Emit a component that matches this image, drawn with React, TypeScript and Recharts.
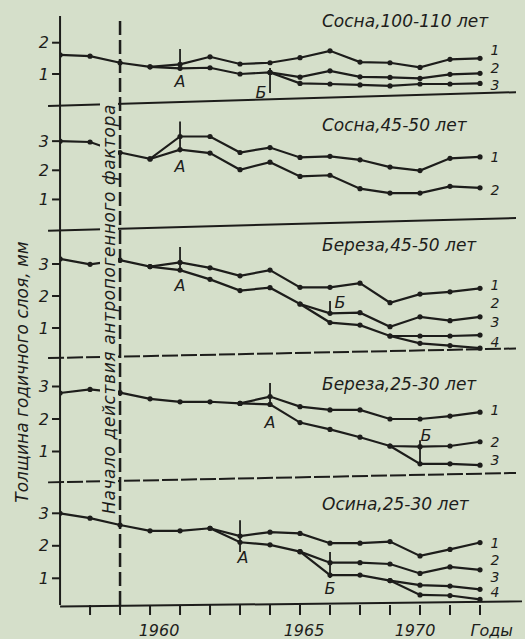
import React from 'react';
import { LineChart, Line, XAxis, YAxis, ReferenceLine, ReferenceDot, Label } from 'recharts';

const years = [1957, 1958, 1959, 1960, 1961, 1962, 1963, 1964, 1965, 1966, 1967, 1968, 1969, 1970, 1971];

// Сосна, 100-110 лет
const pineOld1 = [1.61, 1.57, 1.36, 1.23, 1.31, 1.55, 1.32, 1.36, 1.52, 1.74, 1.38, 1.36, 1.21, 1.47, 1.5];
const pineOld2 = [null, null, null, 1.23, 1.18, 1.2, 1.0, 1.05, 0.9, 1.1, 0.91, 0.89, 0.86, 0.99, 1.02];
const pineOld3 = [null, null, null, null, null, null, null, 1.05, 0.7, 0.68, 0.65, 0.62, 0.68, 0.68, 0.7];
// Сосна, 45-50 лет
const pineMid1 = [3.0, 2.97, 2.61, 2.39, 3.16, 3.16, 2.61, 2.78, 2.44, 2.48, 2.36, 2.11, 1.99, 2.41, 2.46];
const pineMid2 = [null, null, null, 2.39, 2.71, 2.59, 2.02, 2.28, 1.79, 1.83, 1.37, 1.22, 1.22, 1.45, 1.4];
// Береза, 45-50 лет
const birchMid1 = [3.16, 2.99, 3.12, 2.92, 3.05, 2.88, 2.63, 2.81, 2.27, 2.27, 2.4, 1.79, 2.06, 2.13, 2.24];
const birchMid2 = [null, null, null, 2.92, 2.81, 2.52, 2.17, 2.26, 1.75, 1.46, 1.48, 1.04, 1.35, 1.23, 1.35];
const birchMid3 = [null, null, null, null, null, null, null, null, 1.75, 1.17, 1.09, 0.75, 0.75, 0.75, 0.78];
const birchMid4 = [null, null, null, null, null, null, null, null, null, null, null, 0.75, 0.52, 0.45, 0.37];
// Береза, 25-30 лет
const birchYoung1 = [2.8, 2.91, 2.81, 2.62, 2.53, 2.53, 2.48, 2.69, 2.38, 2.28, 2.28, 2.0, 2.0, 2.09, 2.21];
const birchYoung2 = [null, null, null, null, null, null, 2.48, 2.45, 1.89, 1.68, 1.44, 1.17, 1.15, 1.17, 1.3];
const birchYoung3 = [null, null, null, null, null, null, null, null, null, null, null, 1.17, 0.62, 0.62, 0.58];
// Осина, 25-30 лет
const aspen1 = [3.0, 2.85, 2.64, 2.46, 2.46, 2.54, 2.3, 2.42, 2.38, 2.08, 2.08, 2.13, 1.69, 1.89, 2.1];
const aspen2 = [null, null, null, null, null, 2.54, 2.11, 2.03, 1.82, 1.48, 1.48, 1.44, 1.15, 1.35, 1.26];
const aspen3 = [null, null, null, null, null, null, null, null, 1.82, 1.1, 1.1, 0.93, 0.79, 0.76, 0.66];
const aspen4 = [null, null, null, null, null, null, null, null, null, null, null, 0.93, 0.49, 0.47, 0.35];

const panelTitles = ['Сосна,100-110 лет', 'Сосна,45-50 лет', 'Береза,45-50 лет', 'Береза,25-30 лет', 'Осина,25-30 лет'];
const panelTicks = [[1, 2], [1, 2, 3], [1, 2, 3], [1, 2, 3], [1, 2, 3]];
const panelSeries = [
  [pineOld1, pineOld2, pineOld3],
  [pineMid1, pineMid2],
  [birchMid1, birchMid2, birchMid3, birchMid4],
  [birchYoung1, birchYoung2, birchYoung3],
  [aspen1, aspen2, aspen3, aspen4],
];

const tickYears = [1958, 1959, 1960, 1961, 1962, 1963, 1964, 1965, 1966, 1967, 1968, 1969, 1970, 1971];
const labelYears = [1960, 1965, 1970];
const factorYear = 1959;
const axisTitle = 'Толщина годичного слоя, мм';
const factorText = 'Начало действия антропогенного фактора';
const yearsTitle = 'Годы';

// А — начало воздействия, Б — усиление (вертикальная засечка и подпись)
const eventMarks = [
  { panel: 0, name: 'А', year: 1961, from: 1.22, to: 1.8, textYear: 1961, textValue: 0.78 },
  { panel: 0, name: 'Б', year: 1964, from: 0.39, to: 1.19, textYear: 1963.7, textValue: 0.42 },
  { panel: 1, name: 'А', year: 1961, from: 2.62, to: 3.67, textYear: 1961, textValue: 2.15 },
  { panel: 2, name: 'А', year: 1961, from: 2.75, to: 3.53, textYear: 1961, textValue: 2.34 },
  { panel: 2, name: 'Б', year: 1966, from: 1.41, to: 1.84, textYear: 1966.33, textValue: 1.81 },
  { panel: 3, name: 'А', year: 1964, from: 2.37, to: 3.11, textYear: 1964, textValue: 1.91 },
  { panel: 3, name: 'Б', year: 1969, from: 0.58, to: 1.35, textYear: 1969.2, textValue: 1.51 },
  { panel: 4, name: 'А', year: 1963, from: 1.81, to: 2.79, textYear: 1963.1, textValue: 1.66 },
  { panel: 4, name: 'Б', year: 1966, from: 1.01, to: 1.81, textYear: 1966, textValue: 0.7 },
];

// layout
const W = 525;
const H = 639;
const PLOT_LEFT = 60;
const PLOT_RIGHT = 516;
const PLOT_TOP = 16;
const PLOT_BOTTOM = 605;
const PANEL_ZERO = [105.3, 228.6, 360, 484, 610.8];
const PANEL_UNIT = [31.3, 29.15, 32, 32.5, 32.5];
const TAG_SHIFT = [[-8, -5, 2], [0, 2], [-3, -14, -13, -6], [-2, 0, -5], [0, -10, -12, -7]];
// separators drift a little (the scan is skewed); last one is the year axis
const SEPARATOR_ENDS = [[-0.02, 0.42], [-0.07, 0.36], [0.06, 0.36], [0.05, 0.34], [0.13, 0.29]];
const TITLE_BASE = [27, 131, 251, 390, 510];
const TICK_NUDGE = [9, 4, -35];

const INK = '#1d1d1b';
const PAPER = '#d5dfca';
const FONT = "'DejaVu Sans', sans-serif";

const YearTick = (props: any) => {
  const { x, y, payload } = props;
  const i = labelYears.indexOf(payload.value);
  if (i < 0) return null;
  return (
    <text x={x + TICK_NUDGE[i]} y={y + 19} textAnchor="middle" fill={INK} fontSize={16} fontStyle="italic" fontFamily={FONT}>
      {payload.value}
    </text>
  );
};

export default function App() {
  const rows = years.map((year, i) => {
    const row: Record<string, number | null> = { year };
    panelSeries.forEach((list, p) => list.forEach((vals, s) => { row[`p${p}s${s}`] = vals[i]; }));
    return row;
  });

  const textStyle = { fill: INK, fontSize: 16, fontStyle: 'italic', fontFamily: FONT };
  const tagStyle = { ...textStyle, fontSize: 14 };

  return (
    <div style={{ position: 'absolute', left: 0, top: 0, width: W, height: H, background: PAPER, overflow: 'hidden' }}>
      <LineChart
        width={W}
        height={H}
        data={rows}
        margin={{ top: PLOT_TOP, right: W - PLOT_RIGHT, bottom: 0, left: PLOT_LEFT }}
      >
        <XAxis
          dataKey="year"
          type="number"
          domain={[1957, 1972.2]}
          allowDataOverflow
          ticks={tickYears}
          interval={0}
          height={H - PLOT_BOTTOM}
          tickSize={10}
          tickMargin={2}
          tick={<YearTick />}
          axisLine={false}
          tickLine={{ stroke: INK, strokeWidth: 2 }}
        >
          <Label value={yearsTitle} position="insideBottomRight" offset={3} {...textStyle} />
        </XAxis>
        {panelTitles.map((_, p) => (
          <YAxis
            key={`y${p}`}
            yAxisId={`p${p}`}
            type="number"
            width={0.01}
            domain={[(PANEL_ZERO[p] - PLOT_BOTTOM) / PANEL_UNIT[p], (PANEL_ZERO[p] - PLOT_TOP) / PANEL_UNIT[p]]}
            allowDataOverflow
            ticks={panelTicks[p]}
            interval={0}
            tickSize={8}
            tickMargin={3}
            axisLine={p === 0 ? { stroke: INK, strokeWidth: 2 } : false}
            tickLine={{ stroke: INK, strokeWidth: 2 }}
            tick={textStyle}
          />
        ))}
        {SEPARATOR_ENDS.map((ends, p) => (
          <ReferenceLine
            key={`sep${p}`}
            yAxisId={`p${p}`}
            segment={p < 4
              ? [{ x: 1956.6, y: ends[0] }, { x: 1972.2, y: ends[1] }]
              : [{ x: 1957, y: ends[0] }, { x: 1972.4, y: ends[1] }]}
            ifOverflow="visible"
            stroke={INK}
            strokeWidth={2}
            strokeDasharray={p === 2 || p === 3 ? '16 3' : undefined}
          />
        ))}
        <ReferenceLine
          yAxisId="p0"
          x={factorYear}
          stroke={INK}
          strokeWidth={2.5}
          strokeDasharray="14 5"
        />
        {eventMarks.map((m, i) => (
          <ReferenceLine
            key={`ev${i}`}
            yAxisId={`p${m.panel}`}
            segment={[{ x: m.year, y: m.from }, { x: m.year, y: m.to }]}
            stroke={INK}
            strokeWidth={1.8}
          />
        ))}
        {eventMarks.map((m, i) => (
          <ReferenceDot
            key={`evt${i}`}
            yAxisId={`p${m.panel}`}
            x={m.textYear}
            y={m.textValue}
            r={0}
            fill="none"
            stroke="none"
            label={{ value: m.name, position: 'center', ...textStyle }}
          />
        ))}
        {panelSeries.flatMap((list, p) =>
          list.map((_, s) => (
            <Line
              key={`l${p}${s}`}
              yAxisId={`p${p}`}
              dataKey={`p${p}s${s}`}
              stroke={INK}
              strokeWidth={2.2}
              dot={{ r: 2.6, fill: INK, stroke: 'none' }}
              activeDot={false}
              isAnimationActive={false}
            />
          ))
        )}
        {panelSeries.flatMap((list, p) =>
          list.map((vals, s) => (
            <ReferenceDot
              key={`tag${p}${s}`}
              yAxisId={`p${p}`}
              x={1971.5}
              y={(vals[vals.length - 1] as number) - TAG_SHIFT[p][s] / PANEL_UNIT[p]}
              r={0}
              fill="none"
              stroke="none"
              label={{ value: String(s + 1), position: 'center', ...tagStyle }}
            />
          ))
        )}
      </LineChart>
      <svg width={W} height={H} style={{ position: 'absolute', left: 0, top: 0, pointerEvents: 'none' }}>
        {panelTitles.map((t, p) => (
          <text key={t} x={322} y={TITLE_BASE[p]} fill={INK} fontSize={17} fontStyle="italic" fontFamily={FONT}>
            {t}
          </text>
        ))}
        <text
          transform="translate(22 372) rotate(-90)"
          textAnchor="middle"
          dominantBaseline="central"
          fill={INK}
          fontSize={17}
          fontStyle="italic"
          fontFamily={FONT}
        >
          {axisTitle}
        </text>
        <rect x={100} y={101} width={18} height={418} fill={PAPER} />
        <text
          transform="translate(109 309) rotate(-90)"
          textAnchor="middle"
          dominantBaseline="central"
          fill={INK}
          fontSize={17}
          letterSpacing={0.6}
          fontStyle="italic"
          fontFamily={FONT}
        >
          {factorText}
        </text>
      </svg>
    </div>
  );
}
